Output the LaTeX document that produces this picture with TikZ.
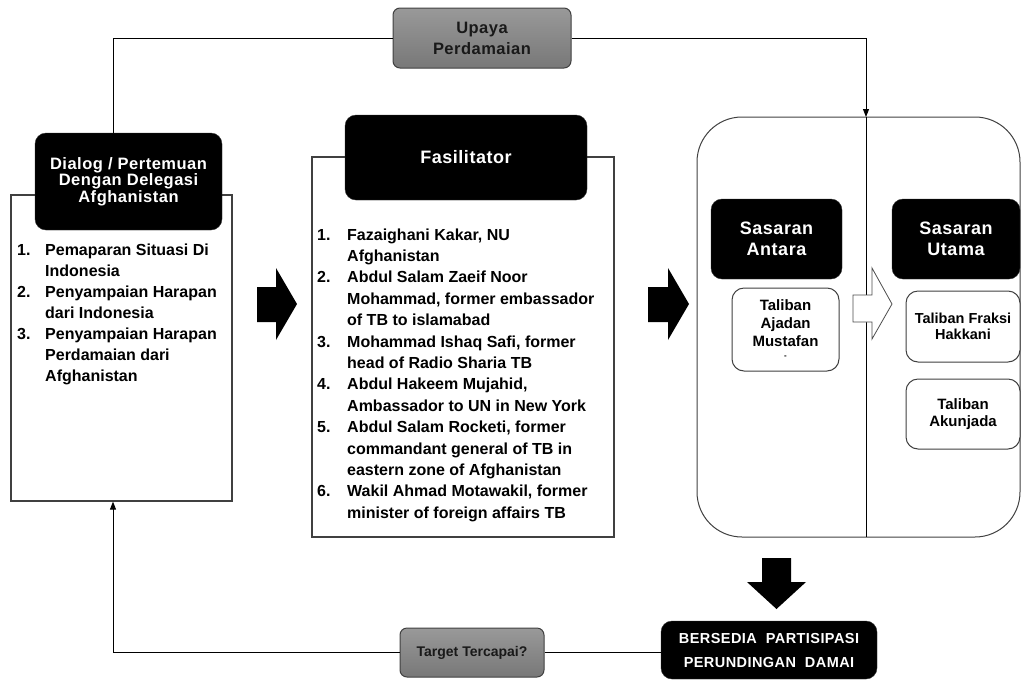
\documentclass[tikz,border=0pt]{standalone}
\usepackage{fontspec}
\setmainfont{Liberation Sans}
\newfontfamily\wide[LetterSpace=3]{Liberation Sans}
\usetikzlibrary{positioning,arrows.meta}

\tikzset{
  blackbox/.style={fill=black, draw=black!80, rounded corners=11pt, text=white, align=center, inner sep=0pt},
  graybox/.style={draw=black!75, line width=1pt, rounded corners=7pt, top color=black!40, bottom color=black!53, text=black!90, align=center, inner sep=0pt},
  listbox/.style={draw=black!75, line width=1.2pt, fill=white, inner sep=0pt},
  whitebox/.style={draw=black!75, line width=1pt, rounded corners=12pt, fill=white, align=center, inner sep=0pt},
  link/.style={draw=black, line width=0.9pt},
}

\begin{document}
\begin{tikzpicture}[x=1pt, y=-1pt, >={Triangle[length=8pt,width=6pt]}]
\useasboundingbox (0,0) rectangle (1021,681);

% Dialog
\node[listbox, minimum width=221pt, minimum height=306pt] (dlglist) at (121.5,348) {};
\node[blackbox, minimum width=187pt, minimum height=97pt, font=\wide\bfseries\fontsize{16.5}{16.5}\selectfont] (dlg) at (128.5,181.5) {Dialog / Pertemuan\\Dengan Delegasi\\Afghanistan};
\node[anchor=north west, inner sep=0pt, font=\bfseries\fontsize{16}{21}\selectfont] (dlgitems) at (17,241)
  {\begin{tabular}{@{}p{28pt}@{}l@{}}
   1. & Pemaparan Situasi Di\\
      & Indonesia\\
   2. & Penyampaian Harapan\\
      & dari Indonesia\\
   3. & Penyampaian Harapan\\
      & Perdamaian dari\\
      & Afghanistan
   \end{tabular}};

% Fasilitator
\node[listbox, minimum width=302pt, minimum height=380pt] (faslist) at (463,347) {};
\node[blackbox, minimum width=242pt, minimum height=85pt, font=\wide\bfseries\fontsize{18}{20}\selectfont] (fas) at (466,157.5) {Fasilitator};
\node[anchor=north west, inner sep=0pt, font=\bfseries\fontsize{16}{21.4}\selectfont] (fasitems) at (317,225)
  {\begin{tabular}{@{}p{30pt}@{}l@{}}
   1. & Fazaighani Kakar, NU\\
      & Afghanistan\\
   2. & Abdul Salam Zaeif Noor\\
      & Mohammad, former embassador\\
      & of TB to islamabad\\
   3. & Mohammad Ishaq Safi, former\\
      & head of Radio Sharia TB\\
   4. & Abdul Hakeem Mujahid,\\
      & Ambassador to UN in New York\\
   5. & Abdul Salam Rocketi, former\\
      & commandant general of TB in\\
      & eastern zone of Afghanistan\\
   6. & Wakil Ahmad Motawakil, former\\
      & minister of foreign affairs TB
   \end{tabular}};

% block arrows
\fill (257,287) -- (276,287) -- (276,268) -- (297,304) -- (276,340) -- (276,322) -- (257,322) -- cycle;
\fill (648,287) -- (668,287) -- (668,268) -- (689,304) -- (668,340) -- (668,322) -- (648,322) -- cycle;

% Sasaran
\node[draw=black!75, line width=1pt, rounded corners=45pt, minimum width=323pt, minimum height=420pt] (ctr) at (858.5,327) {};
\coordinate (divtop) at (866,117);
\coordinate (divbot) at (866,537);
\draw[link] (divtop) -- (divbot);
\node[blackbox, minimum width=131pt, minimum height=80pt, font=\wide\bfseries\fontsize{18}{21}\selectfont] (antara) at (776.5,239) {Sasaran\\Antara};
\node[blackbox, minimum width=128pt, minimum height=80pt, font=\wide\bfseries\fontsize{18}{21}\selectfont] (utama) at (956,239) {Sasaran\\Utama};
\node[whitebox, minimum width=107pt, minimum height=83pt, font=\bfseries\fontsize{15}{18}\selectfont] (ajadan) at (785.5,329.5) {Taliban\\Ajadan\\Mustafan\\[-6pt]{\fontsize{8}{8}\selectfont -}};
\node[whitebox, minimum width=114pt, minimum height=71pt, font=\bfseries\fontsize{14.5}{16}\selectfont] (hakkani) at (963,326.5) {Taliban Fraksi\\Hakkani};
\node[whitebox, minimum width=114pt, minimum height=70pt, font=\bfseries\fontsize{15}{17}\selectfont] (akunjada) at (963,414) {Taliban\\Akunjada};
\draw[fill=white, draw=black!70, line width=0.8pt] (853,295) -- (872,295) -- (872,268) -- (892,304) -- (872,339) -- (872,322) -- (853,322) -- cycle;

% hasil
\fill (762,558) -- (791,558) -- (791,582) -- (806,582) -- (776.5,609) -- (747,582) -- (762,582) -- cycle;
\node[blackbox, minimum width=216pt, minimum height=58pt, font=\wide\bfseries\fontsize{14.5}{24}\selectfont] (bersedia) at (769,650) {BERSEDIA\ \ PARTISIPASI\\PERUNDINGAN\ \ DAMAI};
\node[graybox, minimum width=144pt, minimum height=49pt, font=\bfseries\fontsize{14}{16}\selectfont] (target) at (472,652.5) {Target Tercapai?};
\node[graybox, minimum width=178pt, minimum height=60pt, font=\wide\bfseries\fontsize{16.5}{21}\selectfont] (upaya) at (482,38) {Upaya\\Perdamaian};

% loop
\coordinate (loopx) at (113,0);
\draw[link] (dlg.north -| loopx) |- (upaya.west);
\draw[link,->] (upaya.east) -| (divtop);
\draw[link] (target.east) -- (target.east -| bersedia.west);
\draw[link,->] (target.west) -| (dlglist.south -| loopx);
\end{tikzpicture}
\end{document}
